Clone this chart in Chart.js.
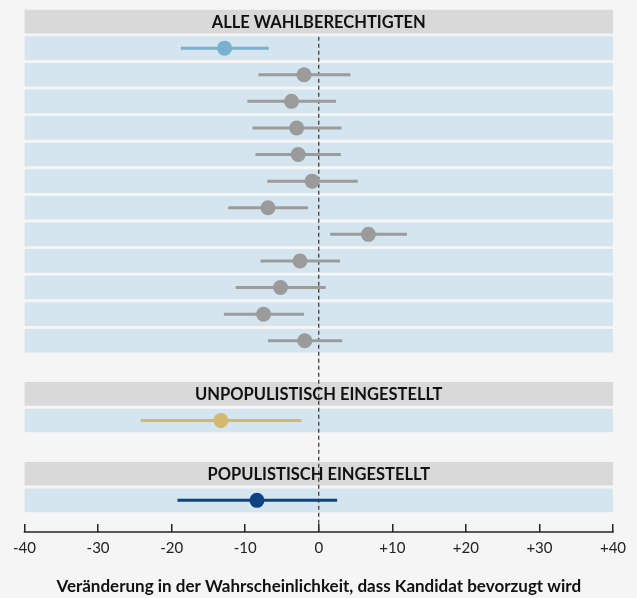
<!DOCTYPE html>
<html>
<head>
<meta charset="utf-8">
<script src="https://cdn.jsdelivr.net/npm/chart.js@4.4.1/dist/chart.umd.min.js"></script>
<style>
  html, body { margin: 0; padding: 0; background: #f5f5f5; }
  canvas { display: block; }
</style>
</head>
<body>
<canvas id="effects" width="637" height="598"></canvas>
<script>
"use strict";
// group headers
const groupTitles = ["ALLE WAHLBERECHTIGTEN", "UNPOPULISTISCH EINGESTELLT", "POPULISTISCH EINGESTELLT"];

// all voters: point estimate and confidence interval per row
const allEstimate = [-12.8, -2.0, -3.7, -3.0, -2.8, -0.9, -6.9, 6.75, -2.55, -5.2, -7.5, -1.9];
const allLower    = [-18.75, -8.2, -9.7, -9.0, -8.6, -7.0, -12.3, 1.55, -7.9, -11.3, -12.9, -6.9];
const allUpper    = [-6.8, 4.3, 2.35, 3.1, 3.0, 5.3, -1.45, 12.0, 2.9, 0.95, -2.0, 3.2];

const unpopEstimate = [-13.3];
const unpopLower    = [-24.2];
const unpopUpper    = [-2.35];

const popEstimate = [-8.4];
const popLower    = [-19.2];
const popUpper    = [2.5];

const xTicks = [-40, -30, -20, -10, 0, 10, 20, 30, 40];
const axisTitle = "Veränderung in der Wahrscheinlichkeit, dass Kandidat bevorzugt wird";

const groups = [
    { title: groupTitles[0], est: allEstimate, lo: allLower, hi: allUpper,
      colors: allEstimate.map((v, i) => i === 0 ? "#78b0cd" : "#9b9b9b") },
    { title: groupTitles[1], est: unpopEstimate, lo: unpopLower, hi: unpopUpper, colors: ["#d4b96c"] },
    { title: groupTitles[2], est: popEstimate, lo: popLower, hi: popUpper, colors: ["#0c4383"] }
];

// lay groups out on a slot grid: header, rows, one empty slot
let slot = 0;
const headerData = [];
const bandData = [];
const pointData = [];
const pointColors = [];
const ciSets = [];
groups.forEach(g => {
    headerData.push({ x: [xTicks[0], xTicks[xTicks.length - 1]], y: slot, label: g.title });
    slot++;
    g.est.forEach((v, i) => {
        bandData.push({ x: [xTicks[0], xTicks[xTicks.length - 1]], y: slot });
        pointData.push({ x: v, y: slot });
        pointColors.push(g.colors[i]);
        ciSets.push({
            type: "line",
            data: [{ x: g.lo[i], y: slot }, { x: g.hi[i], y: slot }],
            borderColor: g.colors[i],
            borderWidth: 3,
            pointRadius: 0,
            order: 3
        });
        slot++;
    });
    slot++;
});
const lastRow = slot - 2;
const yMin = -0.81;
const yMax = lastRow + 0.89;
const tickLen = 8;

const labelPlugin = {
    id: "headerLabels",
    afterDatasetsDraw(chart) {
        const ctx = chart.ctx;
        const meta = chart.getDatasetMeta(1);
        ctx.save();
        ctx.font = "bold 16.5px Lato";
        ctx.fillStyle = "#111";
        ctx.textAlign = "center";
        ctx.textBaseline = "middle";
        meta.data.forEach((bar, i) => {
            ctx.fillText(headerData[i].label, (bar.x + bar.base) / 2, bar.y + 1);
        });
        // axis base line below the tick marks
        const xs = chart.scales.x;
        const yLine = chart.chartArea.bottom + tickLen;
        ctx.strokeStyle = "#222";
        ctx.lineWidth = 1.5;
        ctx.beginPath();
        ctx.moveTo(xs.getPixelForValue(xTicks[0]) - 0.75, yLine);
        ctx.lineTo(xs.getPixelForValue(xTicks[xTicks.length - 1]) + 0.75, yLine);
        ctx.stroke();
        ctx.restore();
    }
};

new Chart(document.getElementById("effects"), {
    type: "bar",
    data: {
        datasets: [
            { type: "bar", data: bandData, backgroundColor: "#d5e5ef",
              barThickness: 23, grouped: false, order: 10, xAxisID: "x", yAxisID: "y" },
            { type: "bar", data: headerData, backgroundColor: "#d9d9d9",
              barThickness: 23, grouped: false, order: 10, xAxisID: "x", yAxisID: "y" },
            { type: "line", data: [{ x: 0, y: 0.57 }, { x: 0, y: yMax + tickLen / 26.6 }],
              borderColor: "#333", borderWidth: 1.2, borderDash: [4, 3], pointRadius: 0,
              clip: false, order: 5, xAxisID: "x", yAxisID: "y" }
        ].concat(ciSets).concat([
            { type: "line", data: pointData, showLine: false, pointRadius: 7.5,
              pointBackgroundColor: pointColors, pointBorderWidth: 0, order: 1 }
        ])
    },
    options: {
        indexAxis: "y",
        responsive: false,
        animation: false,
        layout: { autoPadding: false, padding: { left: 24.5, right: 24, top: 0, bottom: 0 } },
        plugins: { legend: { display: false }, tooltip: { enabled: false } },
        scales: {
            x: {
                type: "linear",
                position: "bottom",
                min: xTicks[0],
                max: xTicks[xTicks.length - 1],
                afterBuildTicks: scale => { scale.ticks = xTicks.map(v => ({ value: v })); },
                grid: { drawOnChartArea: false, drawTicks: true, tickLength: tickLen, color: "#222", lineWidth: 1.5 },
                border: { display: false },
                ticks: {
                    padding: 7,
                    color: "#222",
                    font: { family: "Lato", size: 15 },
                    maxRotation: 0,
                    callback: v => v > 0 ? "+" + v : String(v)
                },
                title: {
                    display: true,
                    text: axisTitle,
                    color: "#111",
                    font: { family: "Lato", size: 17, weight: "bold" },
                    padding: { top: 12.3, bottom: 1.3 }
                }
            },
            y: { type: "linear", position: "left", reverse: true, offset: false,
                 min: yMin, max: yMax, display: false }
        }
    },
    plugins: [labelPlugin]
});
</script>
</body>
</html>
